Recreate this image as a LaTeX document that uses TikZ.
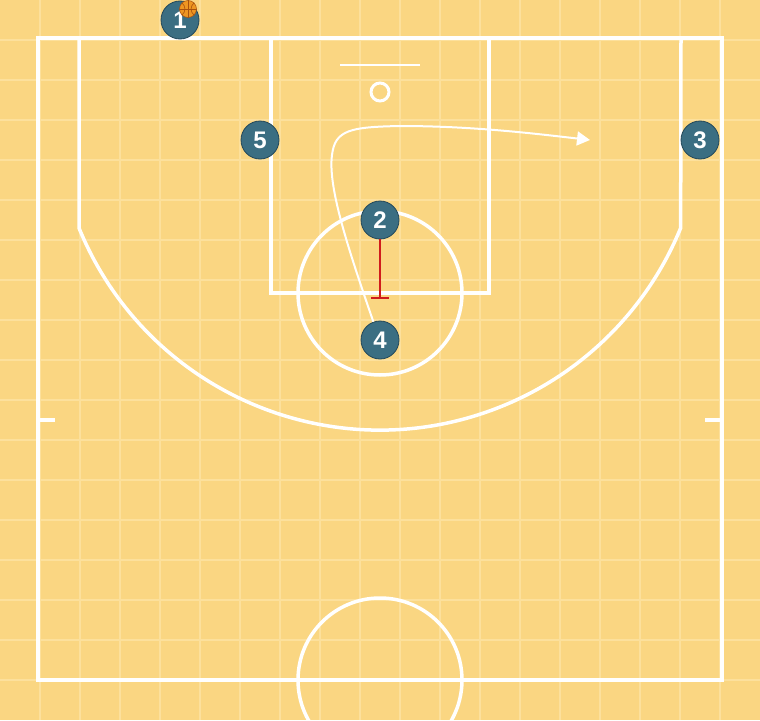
\documentclass[tikz,border=0pt]{standalone}
\usepackage{fontspec}
\setmainfont{Liberation Sans}
\usetikzlibrary{arrows.meta}
\definecolor{courtbg}{HTML}{FAD682}
\definecolor{gridc}{HTML}{FCE09C}
\definecolor{playerfill}{HTML}{3B6E82}
\definecolor{playerline}{HTML}{23485A}
\definecolor{screenred}{HTML}{D01C1C}
\definecolor{ballorange}{HTML}{EE9622}
\definecolor{ballseam}{HTML}{A8520E}
\begin{document}
\begin{tikzpicture}[x=1pt,y=-1pt,
  courtline/.style={white, line width=3.5pt},
  gridline/.style={gridc, line width=2pt},
  player/.style={circle, fill=playerfill, draw=playerline, line width=0.8pt,
    minimum size=38pt, inner sep=0pt, text=white,
    font=\fontsize{24}{24}\selectfont\bfseries},
  ballnode/.style={circle, fill=ballorange, draw=ballseam, line width=0.5pt,
    minimum size=17pt, inner sep=0pt},
  screenline/.style={screenred, line width=2.2pt},
  cutline/.style={white, line width=2pt, -{Triangle[length=13pt,width=14pt]}}]
\useasboundingbox (0,0) rectangle (760,720);
\clip (0,0) rectangle (760,720);
\fill[courtbg] (0,0) rectangle (760,720);
\foreach \x in {40,80,...,720} \draw[gridline] (\x,0) -- (\x,720);
\foreach \y in {40,80,...,680} \draw[gridline] (0,\y) -- (760,\y);
% court
\draw[courtline] (38,38) rectangle (722,680);
\draw[courtline] (271,38) rectangle (489,293);
\draw[courtline] (79,38) -- (79,228) arc[start angle=157.77, end angle=22.23, radius=325] -- (681,38);
\draw[courtline] (380,293) circle[radius=82];
\draw[courtline] (380,680) circle[radius=82];
\draw[white, line width=3pt] (380,92) circle[radius=9];
\draw[white, line width=1.6pt] (340,65) -- (420,65);
\draw[courtline] (38,420) -- (55,420);
\draw[courtline] (705,420) -- (722,420);
% players
\node[player] (p1) at (180,20) {1};
\node[player] (p2) at (380,220) {2};
\node[player] (p3) at (700,140) {3};
\node[player] (p4) at (380,340) {4};
\node[player] (p5) at (260,140) {5};
% ball
\node[ballnode] (ball) at (188,9) {};
\draw[ballseam, line width=0.6pt] (ball.north) -- (ball.south);
\draw[ballseam, line width=0.6pt] (ball.west) -- (ball.east);
\draw[ballseam, line width=0.6pt] (ball.north west) .. controls (186,6) and (186,12) .. (ball.south west);
\draw[ballseam, line width=0.6pt] (ball.north east) .. controls (190,6) and (190,12) .. (ball.south east);
% screen
\coordinate (s2) at (380,298);
\draw[screenline] (p2) -- (s2);
\draw[screenline] ([xshift=-9pt]s2) -- ([xshift=9pt]s2);
% cut
\coordinate (cutend) at (590,140);
\draw[cutline] (p4.110) .. controls (345,240) and (328,185) .. (332,155)
  .. controls (335,130) and (350,127) .. (400,126)
  .. controls (470,126) and (530,133) .. (cutend);
\end{tikzpicture}
\end{document}
